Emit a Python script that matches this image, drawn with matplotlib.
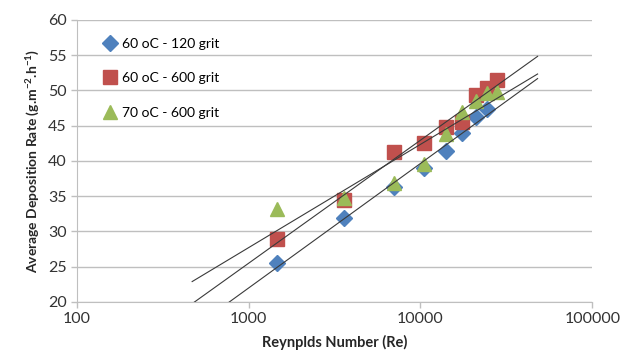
import numpy as np
import matplotlib
matplotlib.use("Agg")
import matplotlib.pyplot as plt

# Reynolds number of each run
re_blue = [1466, 3590, 7000, 10500, 14000, 17500, 21000, 24500]
re_red = [1466, 3590, 7000, 10500, 14000, 17500, 21000, 24500, 28000]
re_green = [1466, 3590, 7000, 10500, 14000, 17500, 21000, 24500, 28000]

# deposition rate (g.m-2.h-1)
dep_blue = [25.5, 31.9, 36.3, 39.0, 41.4, 43.9, 46.3, 47.3]
dep_red = [28.9, 34.5, 41.3, 42.6, 44.8, 45.5, 49.3, 50.4, 51.5]
dep_green = [33.2, 34.8, 36.8, 39.5, 43.8, 47.0, 48.5, 49.7, 49.8]

labels = ["60 oC - 120 grit", "60 oC - 600 grit", "70 oC - 600 grit"]

# extent of the excel style log trendlines (with forecast)
trend_lo = 470
trend_hi = 48000

plt.rcParams['font.family'] = ['Lato', 'DejaVu Sans']
plt.rcParams['mathtext.fontset'] = 'custom'
plt.rcParams['mathtext.rm'] = 'Lato'
plt.rcParams['mathtext.bf'] = 'Lato:bold'

fig = plt.figure(figsize=(6.2, 3.56), dpi=100)
ax = fig.add_axes([0.1235, 0.152, 0.832, 0.792])

ax.plot(re_blue, dep_blue, linestyle="none", marker="D", markersize=8,
        color="#4F81BD", label=labels[0])
ax.plot(re_red, dep_red, linestyle="none", marker="s", markersize=9.5,
        color="#C0504D", label=labels[1])
ax.plot(re_green, dep_green, linestyle="none", marker="^", markersize=10,
        color="#9BBB59", label=labels[2])

# logarithmic trendlines
xt = np.geomspace(trend_lo, trend_hi, 50)
for xs, ys in [(re_blue, dep_blue), (re_red, dep_red), (re_green, dep_green)]:
    a, b = np.polyfit(np.log(xs), ys, 1)
    ax.plot(xt, a * np.log(xt) + b, color="#3A3A3A", lw=0.8, zorder=5)

ax.set_xscale("log")
ax.set_xlim(100, 100000)
ax.set_ylim(20, 60)
ax.set_yticks(range(20, 61, 5))
ax.set_xticks([100, 1000, 10000, 100000])
ax.set_xticklabels(["100", "1000", "10000", "100000"])
ax.minorticks_off()
ax.yaxis.grid(True, color="#BFBFBF", lw=1)
ax.set_axisbelow(True)

for s in ["top", "right"]:
    ax.spines[s].set_visible(False)
ax.spines["left"].set_color("#BFBFBF")
ax.spines["bottom"].set_color("#BFBFBF")
ax.tick_params(axis="both", colors="#BFBFBF", labelcolor="#333333",
               labelsize=11.5, length=4, width=1)
ax.tick_params(axis="x", pad=3)
ax.tick_params(axis="y", pad=3)

ax.set_xlabel("Reynplds Number (Re)", fontsize=10.5, fontweight="bold",
              color="#262626", labelpad=7)
ax.set_ylabel(r"Average Deposition Rate (g.m$^{\mathbf{-2}}$.h$^{\mathbf{-1}}$)",
              fontsize=10, fontweight="bold", color="#262626", labelpad=5)

ax.legend(loc="upper left", frameon=False, fontsize=10, labelspacing=1.6,
          handletextpad=0.15, handlelength=1.5, borderaxespad=0.5,
          bbox_to_anchor=(0.02, 0.98))

fig.savefig("out.png", dpi=100)
